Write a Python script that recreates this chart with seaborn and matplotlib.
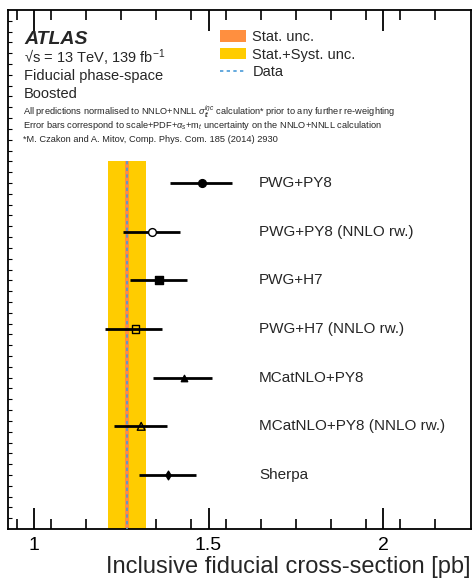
import numpy as np
import matplotlib
matplotlib.use("Agg")
import matplotlib.pyplot as plt
import seaborn as sns
from matplotlib.patches import Patch
from matplotlib.lines import Line2D

# ---------------- data ----------------
models = ["PWG+PY8", "PWG+PY8 (NNLO rw.)", "PWG+H7", "PWG+H7 (NNLO rw.)",
          "MCatNLO+PY8", "MCatNLO+PY8 (NNLO rw.)", "Sherpa"]
central = [1.481, 1.338, 1.358, 1.290, 1.429, 1.307, 1.385]
err_lo = [1.390, 1.256, 1.275, 1.203, 1.342, 1.228, 1.301]
err_hi = [1.567, 1.417, 1.438, 1.367, 1.510, 1.381, 1.464]
markers = ["o", "o", "s", "s", "^", "^", "d"]
open_fill = ["k", "white", "k", "none", "k", "none", "k"]
msizes = [5.6, 5.6, 5.2, 5.2, 4.6, 5.6, 4.4]

data_xsec = 1.266
stat_unc = 0.006
tot_unc = 0.055

xticks_major = [1.0, 1.5, 2.0]
xtick_labels = ["1", "1.5", "2"]

# ---------------- figure ----------------
sns.set_style("ticks")
plt.rcParams['font.family'] = ['Liberation Sans', 'DejaVu Sans']
plt.rcParams['mathtext.fontset'] = 'custom'
plt.rcParams['mathtext.rm'] = 'Liberation Sans'
plt.rcParams['mathtext.it'] = 'Liberation Sans:italic'
plt.rcParams['axes.edgecolor'] = 'black'
plt.rcParams['xtick.color'] = 'black'
plt.rcParams['ytick.color'] = 'black'
plt.rcParams['ytick.right'] = False

fig = plt.figure(figsize=(4.72, 5.78), dpi=100)
ax = fig.add_axes([8/472, 1-529/578, 463/472, 519/578])

ypos = np.arange(len(models))
ax.set_xlim(0.9255, 2.252)
ax.set_ylim(7.11, -3.555)

# bands
ax.fill_between([data_xsec - tot_unc, data_xsec + tot_unc], -0.45, 7.11,
                color="#FFCC00", lw=0, zorder=1)
ax.fill_between([data_xsec - stat_unc, data_xsec + stat_unc], -0.45, 7.11,
                color="#FF8F3F", lw=0, zorder=2)
ax.plot([data_xsec, data_xsec], [-0.45, 7.11], ls=(0, (2, 2)), color="#4A9BD8",
        lw=1.2, zorder=3)

# error bars
ax.hlines(ypos, err_lo, err_hi, color="k", lw=2, zorder=4)

# markers
for i in range(len(models)):
    sns.scatterplot(x=[central[i]], y=[ypos[i]], marker=markers[i], s=msizes[i]**2,
                    facecolor=open_fill[i], edgecolor="k", linewidth=1.0,
                    zorder=5, ax=ax, legend=False)
    ax.text(1.645, ypos[i], models[i], fontsize=11, va="center", ha="left")

# ticks
ax.set_xticks(xticks_major)
ax.set_xticklabels(xtick_labels, fontsize=14)
ax.set_xticks(np.arange(0.95, 2.25, 0.1), minor=True)
ax.tick_params(axis="x", which="major", direction="in", length=15, width=1.3,
               top=True, pad=6)
ax.tick_params(axis="x", which="minor", direction="in", length=7, width=1.2, top=True)
yt = 0 + np.arange(-16, 33) * (4.0 / 18.0)
yt = yt[(yt > -3.55) & (yt < 7.1)]
ax.set_yticks(yt)
ax.set_yticklabels([])
for s in ax.spines.values():
    s.set_linewidth(1.3)
    s.set_color("black")

ax.set_xlabel("Inclusive fiducial cross-section [pb]", fontsize=17, loc="right",
              labelpad=1.5)

# texts
tr = ax.transAxes
def fx(px):
    return (px - 8) / 463
def fy(py):
    return (529 - py) / 519

ax.text(fx(24), fy(39), "ATLAS", fontsize=14, fontweight="bold", style="italic",
        va="center", ha="left", transform=tr)
ax.text(fx(24), fy(58), "√s = 13 TeV, 139 fb$^{-1}$", fontsize=10.5,
        va="center", ha="left", transform=tr)
ax.text(fx(24), fy(76), "Fiducial phase-space", fontsize=10.5, va="center", ha="left", transform=tr)
ax.text(fx(24), fy(94), "Boosted", fontsize=10.5, va="center", ha="left", transform=tr)
ax.text(fx(23), fy(112),
        r"All predictions normalised to NNLO+NNLL $\sigma_{t\bar{t}}^{inc}$ calculation* prior to any further re-weighting",
        fontsize=6.7, va="center", ha="left", transform=tr)
ax.text(fx(23), fy(126),
        r"Error bars correspond to scale+PDF+$\alpha_s$+m$_t$ uncertainty on the NNLO+NNLL calculation",
        fontsize=6.7, va="center", ha="left", transform=tr)
ax.text(fx(23), fy(139.5), "*M. Czakon and A. Mitov, Comp. Phys. Com. 185 (2014) 2930",
        fontsize=6.7, va="center", ha="left", transform=tr)

# legend
handles = [Patch(facecolor="#FF8F3F", edgecolor="none"),
           Patch(facecolor="#FFCC00", edgecolor="none"),
           Line2D([0], [0], ls=(0, (2, 2)), color="#4A9BD8", lw=1.2)]
ax.legend(handles, ["Stat. unc.", "Stat.+Syst. unc.", "Data"], loc="upper left",
          bbox_to_anchor=(fx(220), fy(30)), frameon=False, fontsize=10.5,
          handlelength=1.8, handleheight=0.8, handletextpad=0.42, labelspacing=0.25,
          borderaxespad=0, borderpad=0)

# y ticks only on the left, pointing inwards
ax.yaxis.set_ticks_position("left")
ax.tick_params(axis="y", which="both", direction="in", length=3, width=0.8,
               left=True, right=False, labelleft=False, labelright=False)

fig.savefig("out.png", dpi=100)
